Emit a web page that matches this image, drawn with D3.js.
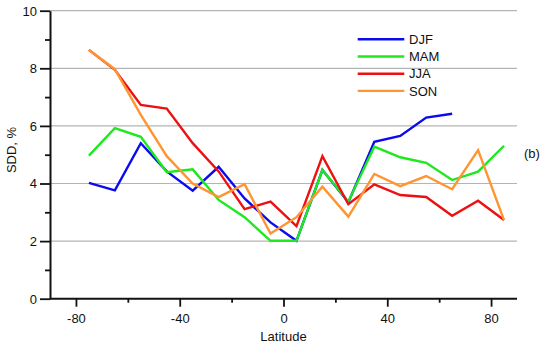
<!DOCTYPE html>
<html><head><meta charset="utf-8">
<script src="https://cdn.jsdelivr.net/npm/d3@7"></script>
<style>body{margin:0;background:#fff}svg{display:block}text{font-family:"Liberation Sans",Arial,sans-serif;fill:#111}</style>
</head><body>
<svg id="c" width="550" height="349"></svg>
<script>
const latitudes = [-75,-65,-55,-45,-35,-25,-15,-5,5,15,25,35,45,55,65,75,85];
const djf = [4.02,3.76,5.40,4.42,3.75,4.58,3.48,2.65,2.01,4.47,3.35,5.45,5.65,6.29,6.42];
const mam = [4.97,5.92,5.62,4.39,4.49,3.43,2.83,2.01,2.01,4.47,3.37,5.28,4.91,4.72,4.12,4.41,5.31];
const jja = [8.64,7.95,6.73,6.60,5.40,4.42,3.11,3.37,2.52,4.95,3.28,3.97,3.60,3.53,2.88,3.40,2.73];
const son = [8.64,7.97,6.38,4.95,4.00,3.53,3.98,2.26,2.83,3.89,2.85,4.33,3.91,4.26,3.80,5.16,2.73];
const seriesNames = ["DJF","MAM","JJA","SON"];
const seriesColors = ["#0a0aee","#1ee81e","#ee1010","#ff9530"];
const xTicksMajor = [-80,-40,0,40,80];
const xTicksMinor = [-60,-20,20,60];
const yTicksMajor = [0,2,4,6,8,10];
const yTicksMinor = [1,3,5,7,9];

const series = [djf,mam,jja,son];
const svg = d3.select("#c");
const L=50,R=517,T=10.7,B=298.7;
const x = d3.scaleLinear().domain([-90,90]).range([L,R]);
const y = d3.scaleLinear().domain([0,10]).range([B,T]);

// gridlines
svg.append("g").selectAll("line").data(yTicksMajor.filter(d=>d>0)).join("line")
  .attr("x1",L).attr("x2",R).attr("y1",d=>y(d)).attr("y2",d=>y(d))
  .attr("stroke","#b4b4b4").attr("stroke-width",1.2);

// lines
const line = d3.line().x((d,i)=>x(latitudes[i])).y(d=>y(d));
series.forEach((s,k)=>{
  svg.append("path").datum(s).attr("d",line).attr("fill","none")
    .attr("stroke",seriesColors[k]).attr("stroke-width",2.4).attr("stroke-linejoin","miter");
});

const fmt = d => String(d);
// axes
const xAxis = svg.append("g").attr("transform",`translate(0,${B})`)
  .call(d3.axisBottom(x).tickValues(xTicksMajor).tickSize(8).tickSizeOuter(0).tickFormat(fmt));
const xMinor = svg.append("g").attr("transform",`translate(0,${B})`)
  .call(d3.axisBottom(x).tickValues(xTicksMinor).tickSize(4).tickSizeOuter(0).tickFormat(""));
const yAxis = svg.append("g").attr("transform",`translate(${L},0)`)
  .call(d3.axisLeft(y).tickValues(yTicksMajor).tickSize(10).tickSizeOuter(0).tickFormat(fmt));
const yMinor = svg.append("g").attr("transform",`translate(${L},0)`)
  .call(d3.axisLeft(y).tickValues(yTicksMinor).tickSize(5).tickSizeOuter(0).tickFormat(""));
[xAxis,xMinor,yAxis,yMinor].forEach(g=>{
  g.select(".domain").attr("stroke","#111").attr("stroke-width",2);
  g.selectAll(".tick line").attr("stroke","#111").attr("stroke-width",1.8);
  g.selectAll("text").attr("font-size",13).attr("fill","#111").style("font-family",'"Liberation Sans",Arial,sans-serif');
});
xMinor.select(".domain").remove(); yMinor.select(".domain").remove();
xAxis.select(".domain").attr("d",`M${L},0H${R}`);
xAxis.selectAll("text").attr("dy","1.05em");
yAxis.selectAll("text").attr("x",-13).attr("dy","0.34em");

svg.append("text").attr("x",(L+R)/2).attr("y",341).attr("text-anchor","middle").attr("font-size",13).text("Latitude");
svg.append("text").attr("transform","translate(16,150) rotate(-90)").attr("text-anchor","middle").attr("font-size",13).text("SDD, %");
svg.append("text").attr("x",524).attr("y",158).attr("font-size",13).text("(b)");

// legend
const lg = svg.append("g");
seriesNames.forEach((n,k)=>{
  const yy = 39.3 + k*17.2;
  lg.append("line").attr("x1",357.7).attr("x2",404.3).attr("y1",yy).attr("y2",yy)
    .attr("stroke",seriesColors[k]).attr("stroke-width",2.4);
  lg.append("text").attr("x",409).attr("y",yy).attr("dy","0.36em").attr("font-size",13).text(n);
});
</script>
</body></html>
